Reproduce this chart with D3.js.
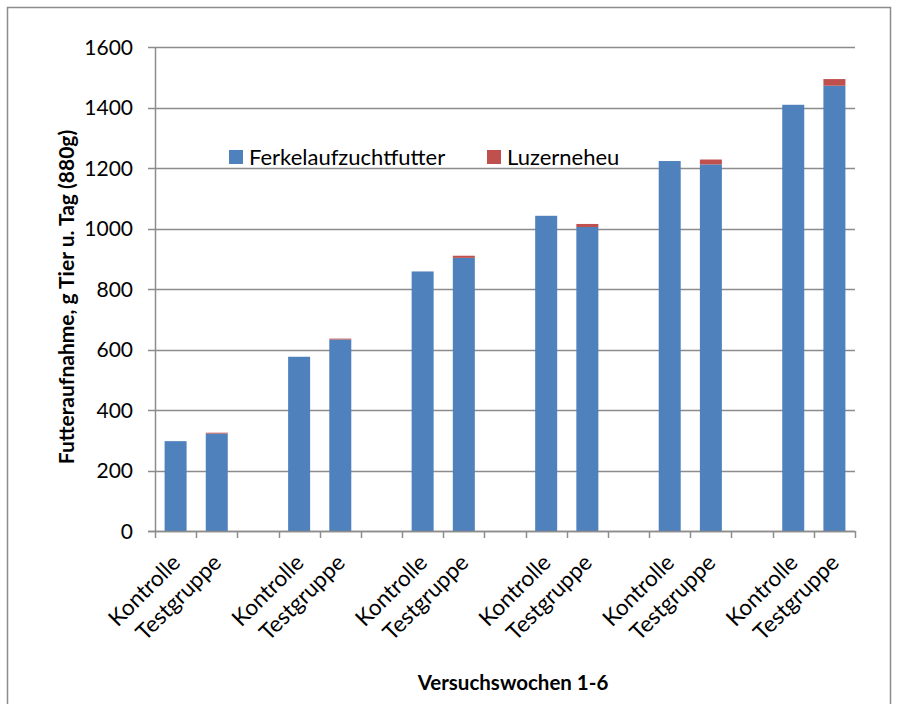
<!DOCTYPE html>
<html>
<head>
<meta charset="utf-8">
<script src="https://d3js.org/d3.v7.min.js"></script>
<style>
  body { margin: 0; background: #fff; }
  text { font-family: Lato, "Open Sans", sans-serif; fill: #000; }
</style>
</head>
<body>
<div id="chart"></div>
<script>
// categories: week groups, a blank slot between groups
var weeks = [1, 2, 3, 4, 5, 6];
var groups = ["Kontrolle", "Testgruppe"];
var seriesNames = ["Ferkelaufzuchtfutter", "Luzerneheu"];
var seriesColors = ["#4f81bd", "#c0504d"];

// values per week: [Kontrolle, Testgruppe]
var ferkelfutter = [[297, 322], [576, 633], [858, 903], [1042, 1005], [1223, 1212], [1409, 1472]];
var luzerneheu = [[0, 3], [0, 3], [0, 7], [0, 10], [0, 16], [0, 22]];
var yTicks = [0, 200, 400, 600, 800, 1000, 1200, 1400, 1600];

// build category slots
var slots = [];
weeks.forEach(function(w, i) {
  groups.forEach(function(g, j) {
    slots.push({key: w + "-" + g, label: g, f: ferkelfutter[i][j], l: luzerneheu[i][j]});
  });
  if (i < weeks.length - 1) slots.push({key: w + "-gap", label: "", f: 0, l: 0});
});

var W = 898, H = 704;
var plotL = 155, plotR = 855, plotT = 47, plotB = 531;

var svg = d3.select("#chart").append("svg")
  .attr("width", W).attr("height", H);

svg.append("rect")
  .attr("x", 7.5).attr("y", 7.5)
  .attr("width", 883).attr("height", 700)
  .attr("fill", "none").attr("stroke", "#8c8c8c").attr("stroke-width", 1.5);

var x = d3.scaleBand().domain(slots.map(function(d) { return d.key; }))
  .range([plotL, plotR]).paddingInner(0).paddingOuter(0);
var y = d3.scaleLinear().domain([0, 1600]).range([plotB, plotT]);

// gridlines
svg.append("g").selectAll("line").data(yTicks).enter().append("line")
  .attr("x1", plotL - 7).attr("x2", plotR)
  .attr("y1", function(d) { return Math.round(y(d)) + 0.5; })
  .attr("y2", function(d) { return Math.round(y(d)) + 0.5; })
  .attr("stroke", "#8c8c8c").attr("stroke-width", 1.5);

// y tick labels
svg.append("g").selectAll("text").data(yTicks).enter().append("text")
  .attr("x", 133).attr("y", function(d) { return y(d); })
  .attr("dy", "0.36em")
  .attr("text-anchor", "end")
  .style("font-size", "21px")
  .text(function(d) { return d; });

// bars
var barW = 22;
var bars = svg.append("g");
bars.selectAll("rect.f").data(slots.filter(function(d) { return d.f > 0; })).enter().append("rect")
  .attr("x", function(d) { return x(d.key) + x.bandwidth() / 2 - barW / 2; })
  .attr("width", barW)
  .attr("y", function(d) { return y(d.f); })
  .attr("height", function(d) { return y(0) - y(d.f); })
  .attr("fill", seriesColors[0]);
bars.selectAll("rect.l").data(slots.filter(function(d) { return d.l > 0; })).enter().append("rect")
  .attr("x", function(d) { return x(d.key) + x.bandwidth() / 2 - barW / 2; })
  .attr("width", barW)
  .attr("y", function(d) { return y(d.f + d.l); })
  .attr("height", function(d) { return y(d.f) - y(d.f + d.l); })
  .attr("fill", seriesColors[1]);

// axes lines
svg.append("line").attr("x1", plotL + 0.5).attr("x2", plotL + 0.5)
  .attr("y1", plotT).attr("y2", plotB)
  .attr("stroke", "#8c8c8c").attr("stroke-width", 1.5);
svg.append("line").attr("x1", plotL - 7).attr("x2", plotR)
  .attr("y1", Math.round(y(0)) + 0.5).attr("y2", Math.round(y(0)) + 0.5)
  .attr("stroke", "#8c8c8c").attr("stroke-width", 1.5);

// x tick marks between categories
var tickPos = slots.map(function(d) { return x(d.key); }).concat([plotR]);
svg.append("g").selectAll("line").data(tickPos).enter().append("line")
  .attr("x1", function(d) { return Math.round(d) + 0.5; })
  .attr("x2", function(d) { return Math.round(d) + 0.5; })
  .attr("y1", plotB).attr("y2", plotB + 7)
  .attr("stroke", "#8c8c8c").attr("stroke-width", 1.5);

// x tick labels
svg.append("g").selectAll("text").data(slots.filter(function(d) { return d.label; })).enter().append("text")
  .attr("transform", function(d) {
    return "translate(" + (x(d.key) + x.bandwidth() / 2 + 6) + "," + (plotB + 33) + ") rotate(-45)";
  })
  .attr("text-anchor", "end")
  .style("font-size", "22.5px")
  .text(function(d) { return d.label; });

// legend
var legend = svg.append("g").selectAll("g").data(seriesNames).enter().append("g")
  .attr("transform", function(d, i) { return "translate(" + (i === 0 ? 229 : 487) + ",150)"; });
legend.append("rect").attr("width", 14).attr("height", 14)
  .attr("fill", function(d, i) { return seriesColors[i]; });
legend.append("text").attr("x", 20).attr("y", 7).attr("dy", "0.36em")
  .style("font-size", "22px")
  .text(function(d) { return d; });

// axis titles
svg.append("text")
  .attr("transform", "translate(74," + 297 + ") rotate(-90)")
  .attr("text-anchor", "middle")
  .style("font-size", "21px").style("font-weight", "bold")
  .text("Futteraufnahme, g Tier u. Tag (880g)");
svg.append("text")
  .attr("x", 513).attr("y", 690)
  .attr("text-anchor", "middle")
  .style("font-size", "20.5px").style("font-weight", "bold")
  .text("Versuchswochen 1-6");
</script>
</body>
</html>
